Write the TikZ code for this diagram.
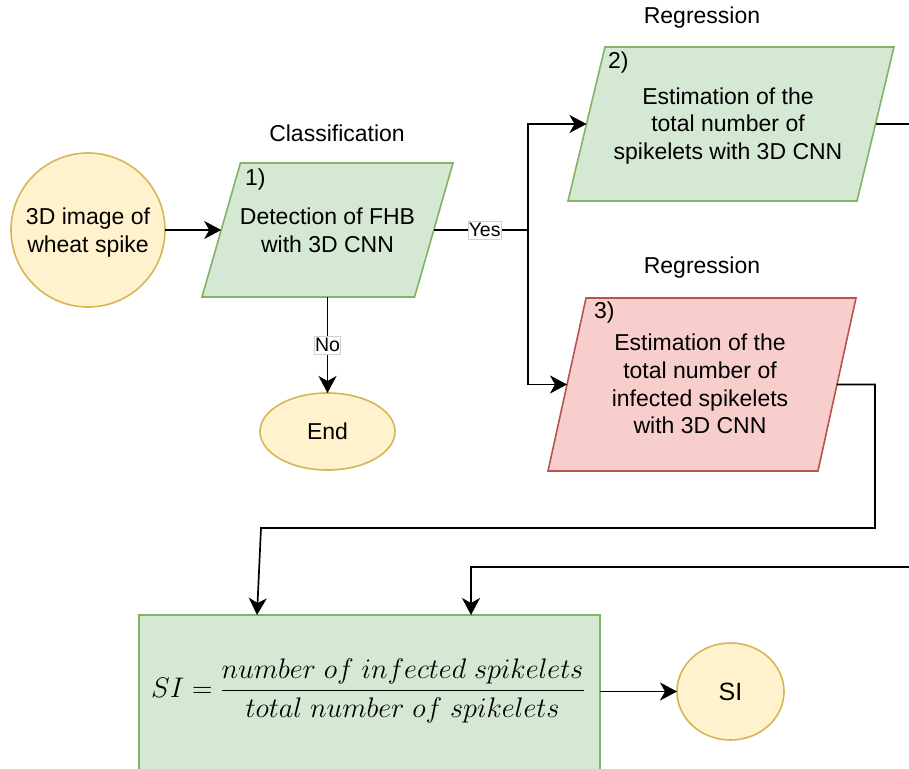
\RequirePackage{fix-cm}
\documentclass[tikz,border=0pt]{standalone}
\usepackage{amsmath}
\usepackage[no-math]{fontspec}
\setmainfont{Liberation Sans}
\usetikzlibrary{shapes.geometric,arrows.meta,calc}

\definecolor{yelFill}{HTML}{FFF2CC}
\definecolor{yelLine}{HTML}{D6B656}
\definecolor{grnFill}{HTML}{D5E8D4}
\definecolor{grnLine}{HTML}{82B366}
\definecolor{redFill}{HTML}{F8CECC}
\definecolor{redLine}{HTML}{B85450}
\definecolor{lblLine}{HTML}{D0D0D0}

\tikzset{
  txt/.style={font=\fontsize{23}{27.7}\selectfont, align=center},
  terminal/.style={txt, draw=yelLine, fill=yelFill, line width=1.6pt, ellipse, inner sep=0pt, outer sep=0pt},
  % parallelogram: the node holds only a strut of the wanted height, the text is a node of its own
  procbox/.style={trapezium, trapezium stretches body, line width=1.6pt, inner sep=0pt, outer sep=0pt},
  greenpara/.style={procbox, draw=grnLine, fill=grnFill},
  redpara/.style={procbox, draw=redLine, fill=redFill},
  num/.style={txt, anchor=west, inner sep=0pt},
  flow/.style={line width=1.7pt, draw=black},
  arr/.style={flow, -{Stealth[length=17pt,width=18pt,inset=5pt]}},
  lbl/.style={font=\fontsize{19.5}{22}\selectfont, fill=white, draw=lblLine, line width=0.6pt, inner xsep=0.5pt, inner ysep=2pt},
  stage/.style={font=\fontsize{23}{27.7}\selectfont},
}

\begin{document}
\begin{tikzpicture}[x=1pt,y=-1pt]
\clip (0,0) rectangle (909,768);
\fill[white] (0,0) rectangle (909,768);

% input and classification step
\node[terminal, circle, minimum size=154pt] (img) at (88,230) {};
\node[txt] (timg) at (88,232.5) {3D image of\\wheat spike};
\node[greenpara, trapezium left angle=74, trapezium right angle=106,
      minimum width=251pt] (p1) at (327.5,230) {\rule{0pt}{134pt}};
\node[txt] (t1) at (327.5,230) {Detection of FHB\\with 3D CNN};
\node[num] (n1) at (245,180) {1)};
\node[stage] (cls) at (337,133) {Classification};

% end of the flow when no FHB is found
\node[terminal, minimum width=135pt, minimum height=77pt] (end) at (327.5,431.5) {End};

% regression steps
\node[greenpara, trapezium left angle=76.5, trapezium right angle=103.5,
      minimum width=326pt] (p2) at (731,124) {\rule{0pt}{154pt}};
\node[txt] (t2) at (728,126) {Estimation of the\\total number of\\spikelets with 3D CNN};
\node[num] (n2) at (608,63) {2)};
\node[stage] (reg2) at (702,18) {Regression};

\node[redpara, trapezium left angle=77.6, trapezium right angle=102.4,
      minimum width=308pt] (p3) at (702,384.5) {\rule{0pt}{173pt}};
\node[txt] (t3) at (700,384) {Estimation of the\\total number of\\infected spikelets\\with 3D CNN};
\node[num] (n3) at (594,313) {3)};
\node[stage] (reg3) at (702,268) {Regression};

% severity index
\node[draw=grnLine, fill=grnFill, line width=1.6pt, minimum width=461pt, minimum height=175pt,
      inner sep=0pt, outer sep=0pt] (sibox) at (369.5,702.5) {};
\node[font=\fontsize{28.3}{33}\selectfont, inner sep=0pt] (frm) at (368,691)
  {$\displaystyle SI = \frac{number\ of\ infected\ spikelets}{total\ number\ of\ spikelets}$};
\node[terminal, font=\fontsize{25}{30}\selectfont, minimum width=107pt, minimum height=97pt] (siout) at (730.5,691.5) {SI};

% routing points
\coordinate (jn) at (528,230);
\coordinate (r2) at (935,567);
\coordinate (l2) at (471,567);
\coordinate (r3) at (875,528);
\coordinate (l3) at (261,528);

% connectors
\draw[arr] (img) -- (p1.left side);
\draw[flow] (p1.right side) -- node[lbl, pos=0.54] {Yes} (jn);
\draw[arr] (jn) |- (p2.left side);
\draw[arr] (jn) |- (p3.left side);
\draw[arr] (p1.south) -- node[lbl] {No} (end.north);
\draw[arr] (p2.right side) -| (r2) -- (l2) -- ($(sibox.north west)+(332,0)$);
\draw[arr] (p3.right side) -| (r3) -- (l3) -- ($(sibox.north west)+(118,0)$);
\draw[arr] (siout.west -| sibox.east) -- (siout.west);
\end{tikzpicture}
\end{document}
